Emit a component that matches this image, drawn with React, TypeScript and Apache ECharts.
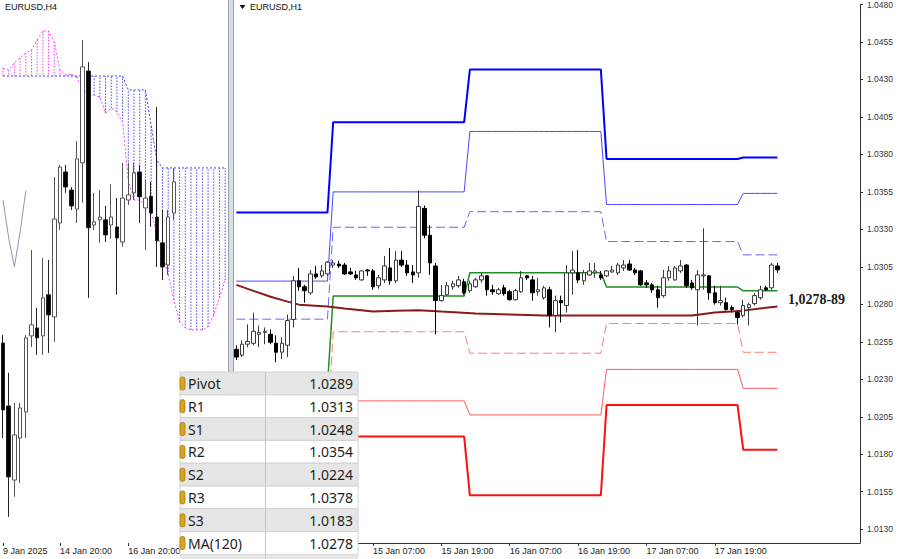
import React, { useEffect, useRef } from "react";
import * as echarts from "echarts";

// ---------------- Left panel: EURUSD, H4 ----------------
const h4SlotCount = 40;
const h4TickIndex = [0, 10, 22];
const h4TickText = ["9 Jan 2025", "14 Jan 20:00", "16 Jan 20:00"];

const h4Open = [1.02482, 1.0226, 1.01999, 1.02147, 1.02239, 1.02507, 1.02535, 1.02507, 1.02652, 1.02574, 1.02905, 1.03085, 1.03021, 1.02954, 1.03117, 1.03441, 1.02898, 1.02916, 1.02916, 1.02898, 1.02891, 1.02838, 1.02986, 1.03011, 1.03085, 1.02958, 1.02999, 1.02926, 1.02835, 1.02757, 1.0294];
const h4Close = [1.02246, 1.0201, 1.02158, 1.02253, 1.025, 1.02546, 1.025, 1.02641, 1.02581, 1.02919, 1.03102, 1.03032, 1.02965, 1.03131, 1.03455, 1.02888, 1.02909, 1.02926, 1.02863, 1.02926, 1.02852, 1.02993, 1.03004, 1.03082, 1.02997, 1.02993, 1.0294, 1.02842, 1.0275, 1.02926, 1.0305];
const h4Low = [1.02147, 1.01869, 1.0194, 1.01989, 1.02147, 1.02468, 1.0244, 1.0244, 1.02447, 1.02486, 1.0288, 1.03011, 1.02951, 1.02905, 1.02976, 1.02641, 1.0288, 1.02835, 1.02838, 1.02849, 1.02652, 1.02821, 1.02969, 1.02986, 1.02905, 1.0281, 1.02891, 1.0275, 1.02704, 1.02722, 1.02916];
const h4High = [1.0251, 1.02377, 1.02271, 1.02271, 1.0251, 1.0281, 1.02606, 1.02782, 1.02775, 1.03067, 1.0311, 1.0311, 1.03032, 1.03194, 1.0355, 1.03472, 1.03011, 1.03021, 1.02965, 1.03042, 1.02993, 1.03117, 1.03117, 1.03117, 1.0311, 1.03057, 1.0305, 1.03314, 1.02951, 1.02951, 1.03099];

const spanPink = [1.03451, 1.03444, 1.03469, 1.03487, 1.03504, 1.03515, 1.0355, 1.03582, 1.03582, 1.03543, 1.03444, 1.03427, 1.0343, 1.03416, 1.03381, 1.03353, 1.03356, 1.03349, 1.03293, 1.0331, 1.03296, 1.03261, 1.03057, 1.02986, 1.02986, 1.02969, 1.02944, 1.0287, 1.028, 1.02722, 1.02634, 1.02556, 1.02535, 1.02528, 1.02528, 1.02528, 1.02539, 1.02581, 1.02641, 1.02704];
const spanBlue = [1.03423, 1.03423, 1.03423, 1.03423, 1.03423, 1.03423, 1.03423, 1.03423, 1.03423, 1.03423, 1.03423, 1.03423, 1.03423, 1.03423, 1.03423, 1.03423, 1.03423, 1.03423, 1.03423, 1.03423, 1.03423, 1.03423, 1.03374, 1.03374, 1.03374, 1.03374, 1.0325, 1.03127, 1.03099, 1.03099, 1.03099, 1.03099, 1.03099, 1.03099, 1.03099, 1.03099, 1.03099, 1.03099, 1.03099, 1.03099];
const laggingLine = [[0, 1.02986], [1, 1.02852], [2, 1.0275], [3, 1.02873], [4, 1.03018]];

// ---------------- Right panel: EURUSD, H1 ----------------
const h1Days = [14, 15, 16, 17, 20];
const h1DayFirstHour = [7, 0, 0, 0, 0];
const h1DayStart = [0, 17, 41, 65, 89];
const h1SlotCount = 110;
const h1FirstLabelIndex = 24;
const h1LastLabelIndex = 95;

const h1Open = [1.025, 1.02461, 1.02534, 1.0254, 1.026, 1.02613, 1.026, 1.0254, 1.02481, 1.02527, 1.02699, 1.02957, 1.02917, 1.02877, 1.03003, 1.0299, 1.03003, 1.03062, 1.03069, 1.03062, 1.03016, 1.02996, 1.02963, 1.03029, 1.03023, 1.02924, 1.02963, 1.03043, 1.02957, 1.03095, 1.03062, 1.03016, 1.0301, 1.0344, 1.03261, 1.03056, 1.02825, 1.02864, 1.02917, 1.02924, 1.0295, 1.02891, 1.02917, 1.02963, 1.0299, 1.02897, 1.02871, 1.0291, 1.02884, 1.02831, 1.02884, 1.0299, 1.02963, 1.02884, 1.02844, 1.02897, 1.02725, 1.02825, 1.02792, 1.0301, 1.0301, 1.02957, 1.02996, 1.0301, 1.02996, 1.0299, 1.03016, 1.0301, 1.03043, 1.03069, 1.03029, 1.03023, 1.02943, 1.0293, 1.02897, 1.02858, 1.02977, 1.02963, 1.03023, 1.03062, 1.02943, 1.02897, 1.0299, 1.0299, 1.02877, 1.02811, 1.02811, 1.02778, 1.02745, 1.02725, 1.02778, 1.02805, 1.02844, 1.0291, 1.0291, 1.03056];
const h1Close = [1.02448, 1.02534, 1.02553, 1.0262, 1.02613, 1.0262, 1.02547, 1.02481, 1.0254, 1.02692, 1.02957, 1.02917, 1.02891, 1.03003, 1.02983, 1.03023, 1.03082, 1.03076, 1.03056, 1.03003, 1.03003, 1.02977, 1.03023, 1.03023, 1.02917, 1.02977, 1.03056, 1.02957, 1.03095, 1.03062, 1.0301, 1.02996, 1.03453, 1.03261, 1.03076, 1.02825, 1.02858, 1.02924, 1.02937, 1.02963, 1.02877, 1.02937, 1.02963, 1.0299, 1.02897, 1.02884, 1.02897, 1.02871, 1.02831, 1.02891, 1.02977, 1.02977, 1.02877, 1.02897, 1.0291, 1.02725, 1.02825, 1.02811, 1.0301, 1.03029, 1.02963, 1.0301, 1.03023, 1.03023, 1.02977, 1.03023, 1.03029, 1.03062, 1.03062, 1.03029, 1.0301, 1.0293, 1.0293, 1.02897, 1.02844, 1.02977, 1.03023, 1.03043, 1.03056, 1.02924, 1.0291, 1.02996, 1.02996, 1.02877, 1.02811, 1.02825, 1.02765, 1.02765, 1.02712, 1.02792, 1.02798, 1.02858, 1.02897, 1.02897, 1.03062, 1.0303];
const h1Low = [1.02428, 1.02448, 1.02514, 1.02527, 1.02514, 1.02534, 1.02534, 1.02414, 1.02434, 1.02448, 1.02646, 1.02891, 1.02811, 1.02864, 1.0297, 1.02977, 1.0299, 1.03043, 1.03043, 1.02996, 1.02996, 1.02963, 1.02957, 1.0299, 1.02897, 1.02904, 1.02943, 1.0293, 1.02943, 1.03049, 1.0299, 1.02943, 1.02977, 1.03241, 1.02996, 1.026, 1.02818, 1.02858, 1.02897, 1.0291, 1.02864, 1.02877, 1.0291, 1.02943, 1.02858, 1.02864, 1.02864, 1.02858, 1.02825, 1.02825, 1.02877, 1.02963, 1.02825, 1.02858, 1.02831, 1.02646, 1.02613, 1.02679, 1.02745, 1.02864, 1.02943, 1.0293, 1.0299, 1.02977, 1.02963, 1.02983, 1.0301, 1.02996, 1.03023, 1.03023, 1.02996, 1.02924, 1.0291, 1.02877, 1.02778, 1.02844, 1.02957, 1.02957, 1.0301, 1.0291, 1.02897, 1.02659, 1.02897, 1.02831, 1.02798, 1.02792, 1.02758, 1.02745, 1.02666, 1.02712, 1.02659, 1.02792, 1.02831, 1.02891, 1.02897, 1.0301];
const h1High = [1.02527, 1.0256, 1.02666, 1.02745, 1.02659, 1.02646, 1.02633, 1.02593, 1.0258, 1.02732, 1.0299, 1.03043, 1.0293, 1.03029, 1.03056, 1.03062, 1.03089, 1.03095, 1.03089, 1.03076, 1.03043, 1.03023, 1.03029, 1.03036, 1.03036, 1.02996, 1.03122, 1.03175, 1.03155, 1.03155, 1.03095, 1.03062, 1.03559, 1.03459, 1.03327, 1.03076, 1.0293, 1.0295, 1.02957, 1.0299, 1.0297, 1.02957, 1.02977, 1.0301, 1.02996, 1.0293, 1.0291, 1.0293, 1.02897, 1.02904, 1.03023, 1.02996, 1.0299, 1.02977, 1.02924, 1.02917, 1.02858, 1.02858, 1.03062, 1.03155, 1.03162, 1.03029, 1.03076, 1.03076, 1.03023, 1.03029, 1.03056, 1.03076, 1.03095, 1.03095, 1.03043, 1.03029, 1.02963, 1.02943, 1.02924, 1.03029, 1.03056, 1.03056, 1.03095, 1.03069, 1.02963, 1.03029, 1.03307, 1.02996, 1.02924, 1.02924, 1.02844, 1.02792, 1.02758, 1.02831, 1.02811, 1.02877, 1.02924, 1.02924, 1.03076, 1.03076];

// daily levels, one value per trading day (14, 15, 16, 17, 20 Jan)
const levelR3 = [1.03413, 1.04015, 1.04366, 1.0377, 1.0378];
const levelR2 = [1.02955, 1.0355, 1.03953, 1.03466, 1.0354];
const levelR1 = [1.02701, 1.03314, 1.03418, 1.03219, 1.0313];
const levelPivot = [1.02262, 1.02855, 1.0301, 1.02915, 1.0289];
const levelS1 = [1.0196, 1.02617, 1.02474, 1.02672, 1.0248];
const levelS2 = [1.0165, 1.02156, 1.02062, 1.02366, 1.0224];
const levelS3 = [1.014, 1.01918, 1.01526, 1.02128, 1.0183];

const ma120 = [[0, 1.0293], [3, 1.0289], [6, 1.02851], [9, 1.02818], [11, 1.02798], [16, 1.02785], [19, 1.02772], [24, 1.02752], [28, 1.02758], [32, 1.02761], [36, 1.02752], [42, 1.02739], [48, 1.02732], [54, 1.02725], [65, 1.02725], [80, 1.02725], [84, 1.02745], [89, 1.02758], [93, 1.02778], [95, 1.02785]];

const yTicks = [1.013, 1.0155, 1.018, 1.0205, 1.023, 1.0255, 1.028, 1.0305, 1.033, 1.0355, 1.038, 1.0405, 1.043, 1.0455, 1.048];
const lastPrice = 1.0303;
const zoneText = "1,0278-89";
const zoneMid = 1.02835;

const tableNames = ["Pivot", "R1", "S1", "R2", "S2", "R3", "S3", "MA(120)"];
const tableValues = ["1.0289", "1.0313", "1.0248", "1.0354", "1.0224", "1.0378", "1.0183", "1.0278"];

const AXIS_FONT = "Liberation Sans";

function dayOf(i: number): number {
  let d = h1DayStart.length - 1;
  while (d > 0 && i < h1DayStart[d]) d--;
  return d;
}

export default function App() {
  const ref = useRef<HTMLDivElement>(null);

  useEffect(() => {
    if (!ref.current) return;
    const chart = echarts.init(ref.current, undefined, { renderer: "svg" });

    const h4Cats = Array.from({ length: h4SlotCount }, (_, i) => `H4 bar ${i}`);
    const h1Cats: string[] = [];
    for (let i = 0; i < h1SlotCount; i++) {
      const d = dayOf(i);
      const hour = h1DayFirstHour[d] + (i - h1DayStart[d]);
      h1Cats.push(`${h1Days[d]} Jan ${String(hour).padStart(2, "0")}:00`);
    }

    const h4Data = h4Open.map((o, i) => [o, h4Close[i], h4Low[i], h4High[i]]);
    const h1Data = h1Open.map((o, i) => [o, h1Close[i], h1Low[i], h1High[i]]);
    const hatch = spanPink.map((a, i) => [i, a, spanBlue[i]]);
    const expand = (vals: number[]) => h1Open.map((_, i) => vals[dayOf(i)]);

    const levelSeries = (data: number[], color: string, width: number, dashed: boolean) => ({
      type: "line",
      xAxisIndex: 1,
      yAxisIndex: 1,
      data: expand(data),
      showSymbol: false,
      silent: true,
      z: 2,
      lineStyle: { color, width, type: dashed ? [9, 4] : "solid" },
    });

    const h4Show = (i: number) => h4TickIndex.includes(i);
    const h1Show = (i: number) => i % 12 === 0 && i >= h1FirstLabelIndex && i <= h1LastLabelIndex;

    const rowTop = 372;
    const rowH = 22.8;
    const tX = 180;
    const tW = 178;
    const colX = 265.5;
    const tableEls: any[] = [];
    tableNames.forEach((name, r) => {
      const y = rowTop + r * rowH;
      tableEls.push({ type: "rect", z: 200, shape: { x: tX, y, width: tW, height: rowH }, style: { fill: r % 2 === 0 ? "#e6e6e6" : "#ffffff", stroke: "#d2d2d2", lineWidth: 1 } });
      tableEls.push({ type: "rect", z: 201, shape: { x: tX, y: y + 5, width: 5, height: 13, r: 2 }, style: { fill: "#d9a520", stroke: "#a87a10", lineWidth: 0.8 } });
      tableEls.push({ type: "text", z: 201, x: 188, y: y + rowH / 2, style: { text: name, fill: "#1e1e1e", fontSize: 14, fontFamily: "Noto Sans", textAlign: "left", textVerticalAlign: "middle" } });
      tableEls.push({ type: "text", z: 201, x: 353, y: y + rowH / 2, style: { text: tableValues[r], fill: "#1e1e1e", fontSize: 14, fontFamily: "Noto Sans", textAlign: "right", textVerticalAlign: "middle" } });
    });
    tableEls.push({ type: "rect", z: 200, shape: { x: tX, y: rowTop + tableNames.length * rowH, width: tW, height: 10 }, style: { fill: "#e6e6e6" } });
    tableEls.push({ type: "line", z: 201, shape: { x1: colX, y1: rowTop, x2: colX, y2: 559 }, style: { stroke: "#c4c4c4", lineWidth: 1 } });

    const option: any = {
      animation: false,
      backgroundColor: "#ffffff",
      grid: [
        { left: 0, top: 0, width: 228, height: 543, containLabel: false },
        { left: 233.5, top: 0, width: 626.5, height: 543, containLabel: false },
      ],
      xAxis: [
        {
          type: "category",
          gridIndex: 0,
          data: h4Cats,
          boundaryGap: true,
          axisLine: { show: false },
          axisTick: { show: true, alignWithLabel: true, interval: h4Show, length: 3, lineStyle: { color: "#333" } },
          axisLabel: {
            interval: h4Show,
            formatter: (_v: string, i: number) => h4TickText[h4TickIndex.indexOf(i)] ?? "",
            align: "left",
            margin: 3,
            fontSize: 9,
            fontFamily: AXIS_FONT,
            color: "#222",
          },
          splitLine: { show: false },
        },
        {
          type: "category",
          gridIndex: 1,
          data: h1Cats,
          boundaryGap: true,
          axisLine: { show: true, lineStyle: { color: "#333", width: 1 } },
          axisTick: { show: true, alignWithLabel: true, interval: h1Show, length: 3, lineStyle: { color: "#333" } },
          axisLabel: { interval: h1Show, align: "left", margin: 3, fontSize: 9, fontFamily: AXIS_FONT, color: "#222" },
          splitLine: { show: false },
        },
      ],
      yAxis: [
        { type: "value", gridIndex: 0, min: 1.01777, max: 1.03691, show: false, splitLine: { show: false } },
        {
          type: "value",
          gridIndex: 1,
          position: "right",
          min: 1.01208,
          max: 1.048,
          axisLine: { show: true, lineStyle: { color: "#333", width: 1 } },
          axisTick: { show: true, length: 3, customValues: yTicks, lineStyle: { color: "#333" } },
          axisLabel: {
            customValues: yTicks,
            formatter: (v: number) => v.toFixed(4),
            margin: 7,
            fontSize: 8.5,
            fontFamily: AXIS_FONT,
            color: "#333",
          },
          splitLine: { show: false },
        },
      ],
      series: [
        {
          type: "custom",
          xAxisIndex: 0,
          yAxisIndex: 0,
          data: hatch,
          encode: { x: 0, y: [1, 2] },
          silent: true,
          z: 1,
          renderItem: (_p: any, api: any) => {
            const i = api.value(0);
            const a = api.value(1);
            const b = api.value(2);
            const p1 = api.coord([i, a]);
            const p2 = api.coord([i, b]);
            return {
              type: "line",
              shape: { x1: p1[0], y1: p1[1], x2: p2[0], y2: p2[1] },
              style: { stroke: a > b ? "#ff40ff" : "#4a4aff", lineWidth: 1, lineDash: [1.5, 1.5] },
            };
          },
        },
        { type: "line", xAxisIndex: 0, yAxisIndex: 0, data: spanPink, showSymbol: false, silent: true, z: 2, lineStyle: { color: "#ff40ff", width: 1, type: [2, 2] } },
        { type: "line", xAxisIndex: 0, yAxisIndex: 0, data: spanBlue, showSymbol: false, silent: true, z: 2, lineStyle: { color: "#3a3aff", width: 1, type: [2, 2] } },
        { type: "line", xAxisIndex: 0, yAxisIndex: 0, data: laggingLine, showSymbol: false, silent: true, z: 2, lineStyle: { color: "#8e9aa8", width: 1 } },
        {
          type: "candlestick",
          xAxisIndex: 0,
          yAxisIndex: 0,
          data: h4Data,
          barWidth: 4,
          z: 3,
          itemStyle: { color: "#ffffff", color0: "#000000", borderColor: "#555555", borderColor0: "#222222", borderWidth: 1 },
        },
        levelSeries(levelR3, "#0000ff", 2, false),
        levelSeries(levelR2, "#4848ff", 1, false),
        levelSeries(levelR1, "#6464ff", 1, true),
        levelSeries(levelPivot, "#1f8f1f", 1.5, false),
        levelSeries(levelS1, "#ff7a7a", 1, true),
        levelSeries(levelS2, "#ff5a5a", 1, false),
        levelSeries(levelS3, "#ff1010", 2, false),
        { type: "line", xAxisIndex: 1, yAxisIndex: 1, data: ma120, showSymbol: false, silent: true, z: 2, lineStyle: { color: "#8b1a1a", width: 2 } },
        {
          type: "candlestick",
          xAxisIndex: 1,
          yAxisIndex: 1,
          data: h1Data,
          barWidth: 4,
          z: 3,
          itemStyle: { color: "#ffffff", color0: "#000000", borderColor: "#3a3a3a", borderColor0: "#000000", borderWidth: 1 },
          markLine: {
            silent: true,
            symbol: ["none", "none"],
            lineStyle: { opacity: 0 },
            label: {
              show: true,
              position: "end",
              distance: 1,
              formatter: lastPrice.toFixed(4),
              backgroundColor: "#000",
              color: "#fff",
              padding: [2, 5, 1, 4],
              fontSize: 9,
              fontFamily: AXIS_FONT,
            },
            data: [{ yAxis: lastPrice }],
          },
          markPoint: {
            silent: true,
            symbol: "circle",
            symbolSize: 1,
            itemStyle: { color: "rgba(0,0,0,0)" },
            data: [
              {
                coord: [h1Cats[95], zoneMid],
                label: {
                  show: true,
                  position: "right",
                  distance: 10,
                  formatter: zoneText,
                  fontFamily: "Liberation Serif",
                  fontWeight: "bold",
                  fontSize: 14,
                  color: "#1a1a1a",
                },
              },
            ],
          },
        },
      ],
      graphic: [
        { type: "rect", z: 90, shape: { x: 228, y: 0, width: 6, height: 559 }, style: { fill: "#d8dee6" } },
        { type: "line", z: 91, shape: { x1: 228.5, y1: 0, x2: 228.5, y2: 559 }, style: { stroke: "#9aa3ad", lineWidth: 1 } },
        { type: "line", z: 91, shape: { x1: 233.5, y1: 0, x2: 233.5, y2: 559 }, style: { stroke: "#9aa3ad", lineWidth: 1 } },
        { type: "text", z: 101, x: 5, y: 7, style: { text: "EURUSD,H4", fill: "#111", fontSize: 9, fontFamily: AXIS_FONT, textVerticalAlign: "middle" } },
        { type: "polygon", z: 101, shape: { points: [[239.5, 5], [245.5, 5], [242.5, 9]] }, style: { fill: "#111" } },
        { type: "text", z: 101, x: 250, y: 7, style: { text: "EURUSD,H1", fill: "#111", fontSize: 9, fontFamily: AXIS_FONT, textVerticalAlign: "middle" } },
        ...tableEls,
      ],
    };

    chart.setOption(option);
    return () => chart.dispose();
  }, []);

  return (
    <div
      ref={ref}
      style={{ position: "fixed", left: 0, top: 0, width: 900, height: 559, background: "#fff" }}
    />
  );
}
